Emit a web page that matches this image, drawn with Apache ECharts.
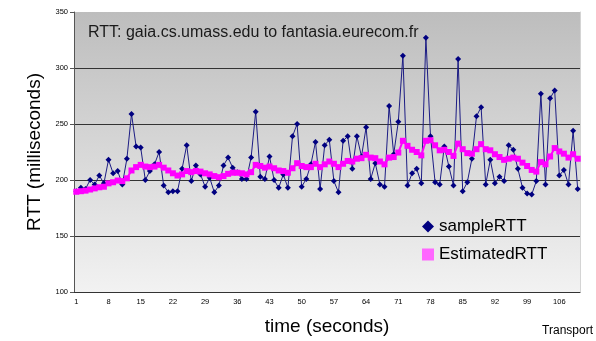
<!DOCTYPE html>
<html>
<head>
<meta charset="utf-8">
<script src="https://cdn.jsdelivr.net/npm/echarts@6/dist/echarts.min.js"></script>
<style>html,body{margin:0;padding:0;background:#fff}#c{width:596px;height:341px}</style>
</head>
<body>
<div id="c"></div>
<script>
const categories = [];
for (let i = 1; i <= 110; i++) categories.push(String(i));

const sampleRTT = [
  190,193,192,200,196,204,197,218,206,208,
  196,219,259,230,229,200,208,214,225,195,
  189,190,190,210,231,199,213,205,194,202,
  189,195,213,220,211,207,201,201,220,261,
  203,201,221,200,193,205,193,239,250,194,
  201,214,234,192,231,236,199,189,235,239,
  210,239,221,247,201,215,196,194,266,223,
  252,311,195,206,210,197,327,239,198,196,
  230,212,195,308,190,198,219,257,265,196,
  218,197,203,199,231,227,210,193,188,187,
  199,277,196,273,280,204,209,196,244,192
];

const estimatedRTT = [
  189.5,190,190.5,191.5,192.5,193.5,194,197,198,199.5,
  199,201.5,208.5,211.5,213.5,212,211.5,212,213.5,211,
  208.5,206,204,205,208,207,208,207.5,206,205,
  203.5,202.5,203.5,205.5,206.5,206.5,206,205,207,213.5,
  212.5,211,212,210.5,208.5,208,206.5,210.5,215,212.5,
  211.5,211.5,214.5,211.5,214,216.5,214.5,211.5,214.5,217,
  216.5,219,219.5,222.5,220,219.5,216.5,214,220,220.5,
  224.5,235,230.5,227,225,222,235,235.5,231,226.5,
  227,225,221.5,232.5,227.5,224,223.5,227.5,232,227.5,
  226.5,223,220.5,218,219,220,219,215.5,212.5,209,
  207.5,216,214,221,228.5,225.5,223.5,220,223,219
];

const yTicks = { min: 100, max: 350, interval: 50 };
const FONT = 'Liberation Sans, Arial, sans-serif';

const chart = echarts.init(document.getElementById('c'), null, { renderer: 'canvas' });
chart.setOption({
  backgroundColor: '#ffffff',
  animation: false,
  textStyle: { fontFamily: FONT },
  title: {
    text: 'RTT: gaia.cs.umass.edu to fantasia.eurecom.fr',
    left: 88, top: 25, padding: 0,
    textStyle: { fontSize: 16, fontWeight: 'normal', color: '#1a1a1a', fontFamily: FONT }
  },
  grid: {
    left: 74, right: 16, top: 12, bottom: 49,
    show: true, borderWidth: 0,
    backgroundColor: new echarts.graphic.LinearGradient(0, 0, 0, 1, [
      { offset: 0, color: '#bdbdbd' },
      { offset: 1, color: '#f2f2f2' }
    ])
  },
  legend: {
    orient: 'vertical', left: 417, top: 213,
    itemGap: 11, itemWidth: 12, itemHeight: 12, itemTextGap: 17,
    textStyle: { fontSize: 17, color: '#000', fontFamily: FONT },
    data: [
      { name: 'sampleRTT', icon: 'diamond', itemStyle: { color: '#000080' } },
      { name: 'EstimatedRTT', icon: 'rect', itemStyle: { color: '#ff66ff' } }
    ]
  },
  xAxis: {
    type: 'category', data: categories, boundaryGap: true,
    name: 'time (seconds)', nameLocation: 'middle', nameGap: 25,
    nameTextStyle: { fontSize: 19, color: '#000', fontFamily: FONT },
    axisLine: { lineStyle: { color: '#333', width: 1 } },
    axisTick: { interval: 6, length: 4, lineStyle: { color: '#333' } },
    axisLabel: { interval: 6, fontSize: 7.5, color: '#000', margin: 6 },
    splitLine: { show: false }
  },
  yAxis: [{
    type: 'value', min: yTicks.min, max: yTicks.max, interval: yTicks.interval,
    name: 'RTT (milliseconds)', nameLocation: 'middle', nameGap: 29,
    nameTextStyle: { fontSize: 19, color: '#000', fontFamily: FONT },
    axisLine: { show: true, lineStyle: { color: '#555', width: 1 } },
    axisTick: { show: true, length: 4, lineStyle: { color: '#555' } },
    axisLabel: { fontSize: 7.5, color: '#000', margin: 6 },
    splitLine: { show: true, showMinLine: false, showMaxLine: false, lineStyle: { color: '#333', width: 1 } }
  }, {
    type: 'value', position: 'right', min: yTicks.min, max: yTicks.max, interval: yTicks.interval,
    axisLine: { show: true, lineStyle: { color: '#d4d4d4', width: 1 } },
    axisTick: { show: false }, axisLabel: { show: false }, splitLine: { show: false }
  }],
  series: [{
    name: 'sampleRTT', type: 'line', data: sampleRTT, yAxisIndex: 0,
    symbol: 'diamond', symbolSize: 6, showAllSymbol: true,
    lineStyle: { color: '#1c1c84', width: 1 },
    itemStyle: { color: '#000080' }
  }, {
    name: 'EstimatedRTT', type: 'line', data: estimatedRTT, yAxisIndex: 0,
    symbol: 'rect', symbolSize: 6, showAllSymbol: true,
    lineStyle: { color: '#ff00ff', width: 2 },
    itemStyle: { color: '#ff00ff' }
  }],
  graphic: [{
    type: 'text', right: 3, top: 325,
    style: { text: 'Transport', fontSize: 12, fill: '#000', fontFamily: FONT }
  }]
});
</script>
</body>
</html>
